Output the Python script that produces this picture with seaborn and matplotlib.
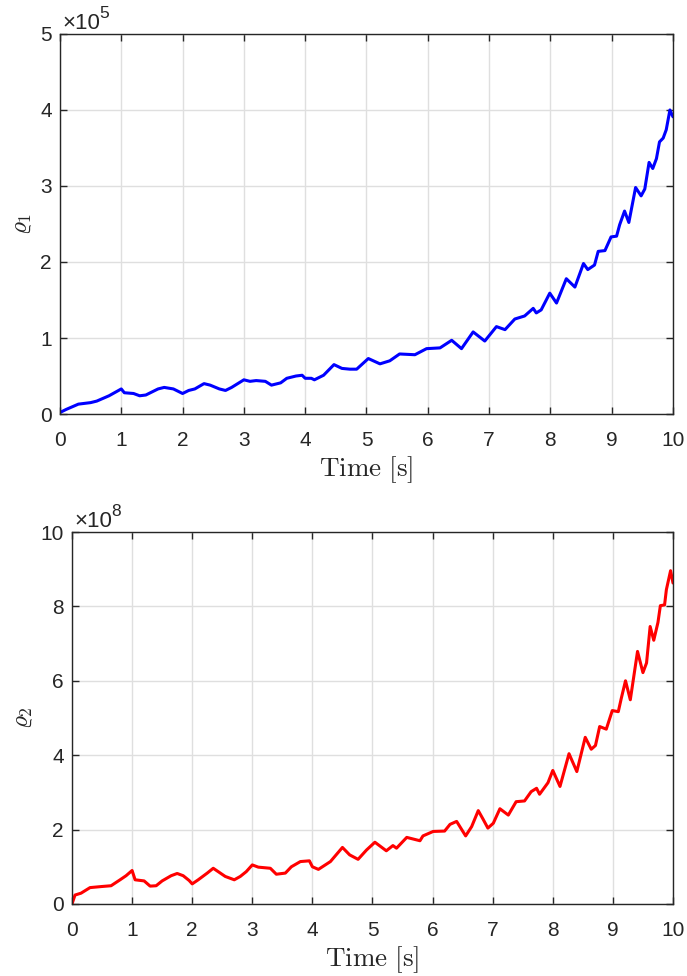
import matplotlib
matplotlib.use("Agg")
import matplotlib.pyplot as plt
import seaborn as sns
import numpy as np

# rho_1 trajectory (values in units of 1e5)
time_rho1 = [0, 0.1, 0.3, 0.5, 0.6, 0.8, 1.0, 1.05, 1.2, 1.3,
             1.4, 1.5, 1.6, 1.7, 1.85, 2.0, 2.1, 2.2, 2.35, 2.45,
             2.6, 2.7, 2.8, 3.0, 3.1, 3.2, 3.35, 3.45, 3.6, 3.7,
             3.85, 3.95, 4.0, 4.1, 4.15, 4.3, 4.47, 4.6, 4.73, 4.84,
             5.03, 5.22, 5.38, 5.54, 5.79, 5.98, 6.2, 6.39, 6.55, 6.74,
             6.93, 7.12, 7.26, 7.42, 7.58, 7.72, 7.77, 7.85, 7.99, 8.1,
             8.26, 8.4, 8.54, 8.61, 8.72, 8.78, 8.89, 8.99, 9.08, 9.13,
             9.21, 9.28, 9.39, 9.48, 9.54, 9.61, 9.67, 9.73, 9.78, 9.84,
             9.89, 9.95, 10.0]
rho1_e5 = [0.02, 0.06, 0.13, 0.15, 0.17, 0.24, 0.33, 0.28, 0.27, 0.24,
           0.25, 0.29, 0.33, 0.35, 0.33, 0.27, 0.31, 0.33, 0.40, 0.38,
           0.33, 0.31, 0.35, 0.45, 0.43, 0.44, 0.43, 0.38, 0.41, 0.47,
           0.50, 0.51, 0.47, 0.47, 0.45, 0.51, 0.65, 0.60, 0.59, 0.59,
           0.73, 0.66, 0.70, 0.79, 0.78, 0.86, 0.87, 0.97, 0.86, 1.08,
           0.96, 1.15, 1.11, 1.25, 1.29, 1.39, 1.33, 1.37, 1.59, 1.46,
           1.78, 1.67, 1.98, 1.90, 1.96, 2.14, 2.15, 2.33, 2.34, 2.49,
           2.67, 2.52, 2.98, 2.87, 2.96, 3.31, 3.23, 3.36, 3.58, 3.63,
           3.74, 4.00, 3.91]

# rho_2 trajectory (values in units of 1e8)
time_rho2 = [0, 0.05, 0.15, 0.3, 0.5, 0.65, 0.8, 0.9, 1.0, 1.05,
             1.2, 1.3, 1.4, 1.5, 1.65, 1.75, 1.85, 1.95, 2.0, 2.1,
             2.25, 2.35, 2.45, 2.55, 2.7, 2.8, 2.9, 3.0, 3.1, 3.3,
             3.4, 3.55, 3.65, 3.8, 3.95, 4.0, 4.1, 4.3, 4.5, 4.62,
             4.76, 4.9, 5.04, 5.23, 5.34, 5.4, 5.57, 5.79, 5.84, 6.01,
             6.2, 6.29, 6.4, 6.55, 6.65, 6.76, 6.84, 6.92, 7.01, 7.12,
             7.26, 7.39, 7.53, 7.64, 7.73, 7.78, 7.92, 8.0, 8.12, 8.27,
             8.4, 8.54, 8.64, 8.71, 8.78, 8.89, 8.99, 9.09, 9.14, 9.21,
             9.29, 9.41, 9.5, 9.56, 9.62, 9.68, 9.75, 9.79, 9.86, 9.89,
             9.96, 10.0]
rho2_e8 = [0.0, 0.24, 0.29, 0.44, 0.47, 0.49, 0.65, 0.76, 0.90, 0.65,
           0.62, 0.48, 0.49, 0.62, 0.76, 0.82, 0.76, 0.63, 0.54, 0.65,
           0.83, 0.96, 0.85, 0.74, 0.65, 0.74, 0.87, 1.05, 0.99, 0.96,
           0.80, 0.83, 1.00, 1.14, 1.16, 1.00, 0.93, 1.14, 1.52, 1.32,
           1.20, 1.45, 1.66, 1.43, 1.57, 1.50, 1.79, 1.70, 1.83, 1.95,
           1.96, 2.14, 2.22, 1.83, 2.08, 2.51, 2.28, 2.04, 2.17, 2.56,
           2.39, 2.75, 2.77, 3.02, 3.11, 2.95, 3.26, 3.59, 3.16, 4.04,
           3.56, 4.48, 4.16, 4.26, 4.77, 4.70, 5.20, 5.17, 5.53, 6.00,
           5.49, 6.79, 6.22, 6.48, 7.46, 7.09, 7.57, 8.02, 8.04, 8.45,
           8.96, 8.63]

x_ticks = list(range(0, 11))
y_ticks_top = [0, 1, 2, 3, 4, 5]
y_ticks_bottom = [0, 2, 4, 6, 8, 10]

sns.set_theme(style="whitegrid")
dark = "#262626"
plt.rcParams.update({
    "font.family": ["Liberation Sans", "DejaVu Sans"],
    "mathtext.fontset": "cm",
    "axes.edgecolor": dark,
    "axes.linewidth": 1.0,
    "grid.color": "#dfdfdf",
    "grid.linewidth": 1.0,
    "xtick.color": dark,
    "ytick.color": dark,
    "xtick.labelcolor": dark,
    "ytick.labelcolor": dark,
})

fig = plt.figure(figsize=(6.87, 9.76), dpi=100)
ax1 = fig.add_axes([0.0873, 0.5758, 0.8923, 0.3894])
ax2 = fig.add_axes([0.1048, 0.0738, 0.8748, 0.3811])


def style_axes(ax, yticks, ylabel, exponent):
    ax.set_xlim(0, 10)
    ax.set_ylim(yticks[0], yticks[-1])
    ax.set_xticks(x_ticks)
    ax.set_yticks(yticks)
    ax.tick_params(axis="both", which="both", direction="in", length=5,
                   width=1.0, labelsize=15, top=True, right=True,
                   bottom=True, left=True, colors=dark)
    ax.tick_params(axis="x", pad=12)
    ax.tick_params(axis="y", pad=6)
    for s in ax.spines.values():
        s.set_visible(True)
        s.set_color(dark)
        s.set_linewidth(1.0)
    ax.grid(True, color="#dfdfdf", linewidth=1.0)
    ax.set_axisbelow(True)
    ax.set_xlabel(r"$\mathrm{Time\ [s]}$", fontsize=19.5, color=dark, labelpad=3)
    ax.set_ylabel(ylabel, fontsize=18, color=dark, labelpad=4)
    # exponent marker above the y axis
    ax.annotate("\u00d710", xy=(0, 1), xycoords="axes fraction",
                xytext=(1.5, 3.5), textcoords="offset points",
                fontsize=16, color=dark, ha="left", va="baseline")
    ax.annotate(exponent, xy=(0, 1), xycoords="axes fraction",
                xytext=(28.5, 11.5), textcoords="offset points",
                fontsize=12.5, color=dark, ha="left", va="baseline")


sns.lineplot(x=time_rho1, y=rho1_e5, ax=ax1, color="#0000ff", linewidth=2.2,
             sort=False, estimator=None)
style_axes(ax1, y_ticks_top, r"$\varrho_1$", "5")

sns.lineplot(x=time_rho2, y=rho2_e8, ax=ax2, color="#ff0000", linewidth=2.2,
             sort=False, estimator=None)
style_axes(ax2, y_ticks_bottom, r"$\varrho_2$", "8")

fig.savefig("out.png", dpi=100, facecolor="white")
